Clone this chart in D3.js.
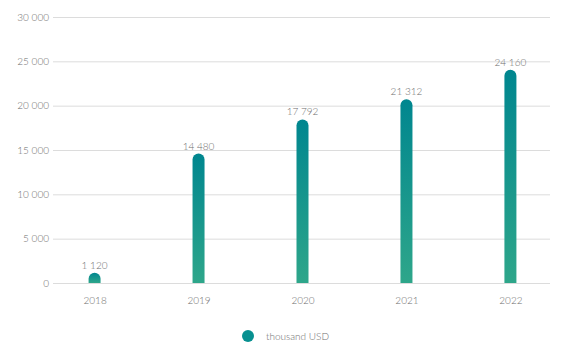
<!DOCTYPE html>
<html><head><meta charset="utf-8">
<script src="https://cdn.jsdelivr.net/npm/d3@7"></script>
<style>body{margin:0;background:#fff}svg{display:block}text{font-family:Lato,"Open Sans",sans-serif;font-weight:300}</style>
</head><body><svg id="c" width="562" height="354"></svg>
<script>
const categories = ["2018","2019","2020","2021","2022"];
// printed values (labels)
const labelValues = [1120, 14480, 17792, 21312, 24160];
// bar heights as drawn in the reference picture
const barValues = [1160, 14600, 18450, 20720, 24050];
const yTicks = [0, 5000, 10000, 15000, 20000, 25000, 30000];
const seriesName = "thousand USD";

const svg = d3.select("#c");
const fmt = v => d3.format(",")(v).replace(/,/g, " ");
const x = d3.scalePoint().domain(categories).range([53, 552]).padding(0.4);
const y = d3.scaleLinear().domain([0, 30000]).range([283, 17]);

const defs = svg.append("defs");
const g = defs.append("linearGradient").attr("id","grad").attr("x1",0).attr("y1",0).attr("x2",0).attr("y2",1);
g.append("stop").attr("offset","0%").attr("stop-color","#00868f");
g.append("stop").attr("offset","100%").attr("stop-color","#2ea68a");

const yAxis = d3.axisLeft(y).tickValues(yTicks).tickSize(-497).tickFormat(fmt).tickPadding(4);
const ga = svg.append("g").attr("transform","translate(53,0)").call(yAxis);
ga.select(".domain").remove();
ga.selectAll("line").attr("stroke","#dcdcdc").attr("stroke-width",1);
ga.selectAll("text").attr("fill","#6e6e6e").attr("font-size",10);

const xAxis = d3.axisBottom(x).tickSize(0).tickPadding(14);
const gx = svg.append("g").attr("transform","translate(0,283)").call(xAxis);
gx.select(".domain").remove();
gx.selectAll("text").attr("fill","#6e6e6e").attr("font-size",10);

const bw = 12, r = 6;
svg.append("g").selectAll("path").data(barValues).join("path")
  .attr("fill","url(#grad)")
  .attr("d",(d,i)=>{
    const cx = x(categories[i]), x0 = cx - bw/2, x1 = cx + bw/2;
    const yt = y(d), yb = y(0);
    return `M${x0},${yb}L${x0},${yt+r}A${r},${r} 0 0 1 ${x1},${yt+r}L${x1},${yb}Z`;
  });

svg.append("g").selectAll("text").data(labelValues).join("text")
  .attr("x",(d,i)=>x(categories[i]))
  .attr("y",(d,i)=>y(barValues[i])-4)
  .attr("text-anchor","middle")
  .attr("font-size",10)
  .attr("fill","#6e6e6e")
  .text(fmt);

svg.append("circle").attr("cx",248).attr("cy",336).attr("r",6).attr("fill","#079090");
svg.append("text").attr("x",266).attr("y",340).attr("font-size",10).attr("fill","#6e6e6e").text(seriesName);
</script></body></html>
